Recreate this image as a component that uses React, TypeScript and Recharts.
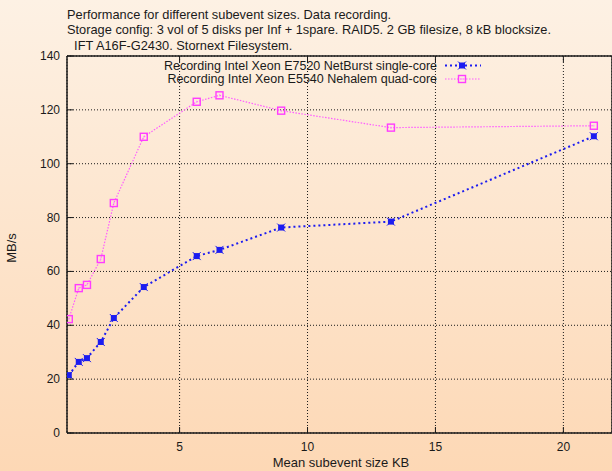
import React from "react";
import { LineChart, Line, XAxis, YAxis, CartesianGrid } from "recharts";

// mean subevent size (KB) and recording rate (MB/s) per machine
const sizes = [0.67, 1.06, 1.38, 1.92, 2.43, 3.6, 5.67, 6.56, 8.97, 13.26, 21.19];
const netburst = [21.5, 26.4, 27.8, 33.8, 42.7, 54.2, 65.7, 68.0, 76.3, 78.5, 110.2];
const nehalem = [42.3, 53.8, 55.0, 64.6, 85.4, 110.0, 123.0, 125.4, 119.7, 113.4, 114.1];

const xTicks = [5, 10, 15, 20];
const yTicks = [0, 20, 40, 60, 80, 100, 120, 140];

const titleLines = [
  "Performance for different subevent sizes. Data recording.",
  "Storage config: 3 vol of 5 disks per Inf + 1spare. RAID5. 2 GB filesize, 8 kB blocksize.",
  "  IFT A16F-G2430. Stornext Filesystem.",
];

const seriesNames = [
  "Recording Intel Xeon E7520 NetBurst single-core",
  "Recording Intel Xeon E5540 Nehalem quad-core",
];

const data = sizes.map((x, i) => ({ x, netburst: netburst[i], nehalem: nehalem[i] }));

const FONT = "'Liberation Sans', Arial, sans-serif";
const INK = "#1a1a1a";
const BLUE = "#1c1cf0";
const PINK = "#ff3cff";
const PINK_LINE = "#ff5cff";

const BottomTick = (p: any) => (
  <g>
    <line x1={p.x} y1={p.y} x2={p.x} y2={p.y - 6} stroke={INK} />
    <text x={p.x} y={p.y + 18} textAnchor="middle" fontSize={12} fill={INK} fontFamily={FONT}>
      {p.payload.value}
    </text>
  </g>
);

const TopTick = (p: any) => <line x1={p.x} y1={p.y} x2={p.x} y2={p.y + 6} stroke={INK} />;

const LeftTick = (p: any) => (
  <g>
    <line x1={p.x} y1={p.y} x2={p.x + 6} y2={p.y} stroke={INK} />
    <text x={p.x - 7} y={p.y + 4} textAnchor="end" fontSize={12} fill={INK} fontFamily={FONT}>
      {p.payload.value}
    </text>
  </g>
);

const RightTick = (p: any) => <line x1={p.x} y1={p.y} x2={p.x - 6} y2={p.y} stroke={INK} />;

const BlueDot = (p: any) => (
  <g key={`b${p.index}`}>
    <rect x={p.cx - 3} y={p.cy - 3} width={6} height={6} fill={BLUE} />
    <path
      d={`M${p.cx - 4},${p.cy - 4}L${p.cx + 4},${p.cy + 4}M${p.cx + 4},${p.cy - 4}L${p.cx - 4},${p.cy + 4}`}
      stroke={BLUE}
      strokeWidth={1}
    />
  </g>
);

const PinkDot = (p: any) => (
  <g key={`p${p.index}`}>
    <rect x={p.cx - 3.5} y={p.cy - 3.5} width={7} height={7} fill="none" stroke={PINK} strokeWidth={1.4} />
    <rect x={p.cx - 0.5} y={p.cy - 1} width={1} height={2} fill="#ff8cff" />
  </g>
);

function LegendBox() {
  const rows = [
    { name: seriesNames[0], color: BLUE, dash: "2 3", w: 2, Dot: BlueDot },
    { name: seriesNames[1], color: PINK_LINE, dash: "1.5 1.5", w: 1.2, Dot: PinkDot },
  ];
  return (
    <svg width={612} height={100} style={{ position: "absolute", left: 0, top: 0 }}>
      {rows.map((r, i) => {
        const y = 65.5 + i * 13.5;
        return (
          <g key={r.name}>
            <text x={437} y={y + 4.3} textAnchor="end" fontSize={12.5} fill={INK} fontFamily={FONT}>
              {r.name}
            </text>
            <line x1={445} y1={y} x2={481} y2={y} stroke={r.color} strokeWidth={r.w} strokeDasharray={r.dash} />
            <r.Dot cx={462} cy={y} index={i} />
          </g>
        );
      })}
    </svg>
  );
}

export default function App() {
  return (
    <div
      style={{
        position: "absolute",
        left: 0,
        top: 0,
        width: 612,
        height: 471,
        overflow: "hidden",
        background: "linear-gradient(#fdf1e4, #fdd8b5)",
        fontFamily: FONT,
        color: INK,
      }}
    >
      <svg width={612} height={56} style={{ position: "absolute", left: 0, top: 0 }}>
        {titleLines.map((t, i) => (
          <text key={i} x={67} y={18.5 + i * 15.5} fontSize={12.8} fill={INK} fontFamily={FONT} style={{ whiteSpace: "pre" }}>
            {t}
          </text>
        ))}
      </svg>
      <div style={{ position: "absolute", left: 0, top: 0 }}>
        <LineChart width={613} height={471} data={data} margin={{ top: 55, right: 0, bottom: 0, left: 0 }}>
          <CartesianGrid stroke={INK} strokeDasharray="1 2" strokeWidth={1} />
          <XAxis
            dataKey="x"
            type="number"
            domain={[0.6, 21.9]}
            ticks={xTicks}
            height={38}
            tickSize={0}
            tickMargin={0}
            tickLine={false}
            axisLine={{ stroke: INK, strokeWidth: 1.5 }}
            tick={BottomTick}
            allowDataOverflow
          />
          <XAxis
            xAxisId="top"
            orientation="top"
            dataKey="x"
            type="number"
            domain={[0.6, 21.9]}
            ticks={xTicks}
            height={1}
            tickSize={0}
            tickMargin={0}
            tickLine={false}
            axisLine={{ stroke: INK, strokeWidth: 1.5 }}
            tick={TopTick}
            allowDataOverflow
          />
          <YAxis
            type="number"
            domain={[0, 140]}
            ticks={yTicks}
            width={67}
            tickSize={0}
            tickMargin={0}
            tickLine={false}
            axisLine={{ stroke: INK, strokeWidth: 1.5 }}
            tick={LeftTick}
          />
          <YAxis
            yAxisId="right"
            orientation="right"
            type="number"
            domain={[0, 140]}
            ticks={yTicks}
            width={1}
            tickSize={0}
            tickMargin={0}
            tickLine={false}
            axisLine={{ stroke: INK, strokeWidth: 1.5 }}
            tick={RightTick}
          />
          <Line
            dataKey="netburst"
            name={seriesNames[0]}
            stroke={BLUE}
            strokeWidth={2}
            strokeDasharray="2 3"
            dot={BlueDot}
            isAnimationActive={false}
          />
          <Line
            dataKey="nehalem"
            name={seriesNames[1]}
            stroke={PINK_LINE}
            strokeWidth={1.2}
            strokeDasharray="1.5 1.5"
            dot={PinkDot}
            isAnimationActive={false}
          />
        </LineChart>
      </div>
      <LegendBox />
      <svg width={612} height={471} style={{ position: "absolute", left: 0, top: 0, pointerEvents: "none" }}>
        <text x={16} y={248} transform="rotate(-90 16 248)" textAnchor="middle" fontSize={13} fill={INK} fontFamily={FONT}>
          MB/s
        </text>
        <text x={341} y={467} textAnchor="middle" fontSize={13} fill={INK} fontFamily={FONT}>
          Mean subevent size KB
        </text>
      </svg>
    </div>
  );
}
